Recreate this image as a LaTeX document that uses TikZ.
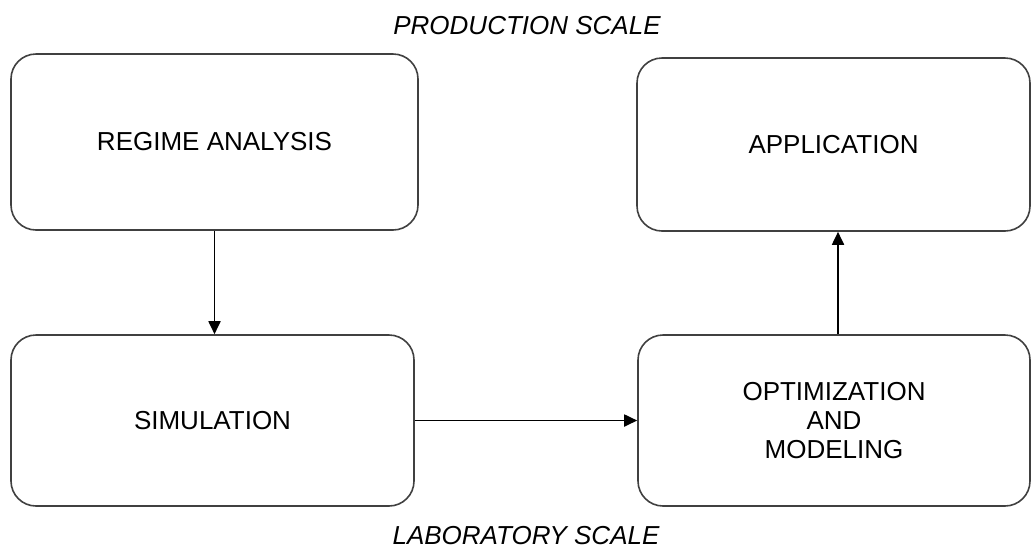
\documentclass[tikz,border=0pt]{standalone}
\usepackage{fontspec}
\setmainfont{Liberation Sans}
\usetikzlibrary{arrows.meta}
\begin{document}
\begin{tikzpicture}[x=1pt,y=-1pt,
  stagebox/.style={draw=black!75,line width=1.6pt,rounded corners=25pt,inner sep=0pt,
    align=center,font=\fontsize{26}{29}\selectfont},
  arr/.style={draw=black,line width=1.8pt,-{Triangle[length=13pt,width=12pt]}},
  scalelabel/.style={font=\itshape\fontsize{26}{29}\selectfont,inner sep=0pt}]
\useasboundingbox (0,0) rectangle (1032,550);
\node[stagebox,minimum width=407pt,minimum height=176pt] (reg) at (214.5,142) {REGIME ANALYSIS};
\node[stagebox,minimum width=393pt,minimum height=173pt] (app) at (833.5,144.5) {APPLICATION};
\node[stagebox,minimum width=403pt,minimum height=171pt] (sim) at (212.5,420.5) {SIMULATION};
\node[stagebox,minimum width=392pt,minimum height=171pt] (opt) at (834,420.5) {OPTIMIZATION\\AND\\MODELING};
\node[scalelabel,anchor=base] (prod) at (527,34) {PRODUCTION SCALE};
\node[scalelabel,anchor=base] (lab) at (526,544) {LABORATORY SCALE};
\draw[arr] (reg.south) -- (reg.south |- sim.north);
\draw[arr] (sim.east) -- (opt.west);
\draw[arr] ([xshift=4pt]opt.north) -- ([xshift=4pt]opt.north |- app.south);
\end{tikzpicture}
\end{document}
